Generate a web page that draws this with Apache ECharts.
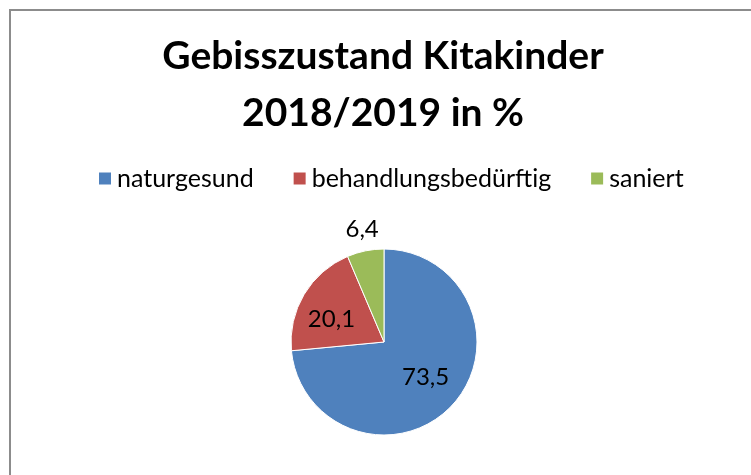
<!DOCTYPE html>
<html>
<head>
<meta charset="utf-8">
<script src="https://cdn.jsdelivr.net/npm/echarts@6/dist/echarts.min.js"></script>
<style>
  html, body { margin: 0; padding: 0; background: #fff; }
  #wrap { position: relative; width: 751px; height: 475px; overflow: hidden; }
  #frame { position: absolute; left: 9px; top: 9px; width: 800px; height: 500px;
           border-left: 2px solid #8c8c8c; border-top: 2px solid #8c8c8c; }
  #pie { position: absolute; left: 0; top: 0; width: 751px; height: 475px; }
</style>
</head>
<body>
<div id="wrap">
  <div id="frame"></div>
  <div id="pie"></div>
</div>
<script>
// Kategorien und Werte (in %)
const categories = ["naturgesund", "behandlungsbedürftig", "saniert"];
const values = [73.5, 20.1, 6.4];
const colors = ["#4F81BD", "#C0504D", "#9BBB59"];
// Verschiebung der Beschriftungen (nur Darstellung)
const labelOffsets = [[5, 2], [-10, 3], [-12, -64]];

let myChart = echarts.init(document.getElementById("pie"));

let option = {
  animation: false,
  title: {
    text: "Gebisszustand Kitakinder\n2018/2019 in %",
    left: 383,
    textAlign: "center",
    top: 28,
    padding: 0,
    textStyle: {
      fontFamily: "Lato",
      fontWeight: "bold",
      fontSize: 39,
      lineHeight: 57,
      color: "#000",
    },
  },
  legend: {
    data: categories,
    left: 97,
    top: 166,
    padding: 0,
    itemWidth: 14,
    itemHeight: 14,
    itemGap: 38,
    icon: "rect",
    textStyle: {
      fontFamily: "Lato",
      fontSize: 25,
      color: "#000",
    },
  },
  series: [
    {
      type: "pie",
      center: [384, 342],
      radius: 93,
      startAngle: 90,
      clockwise: true,
      itemStyle: {
        borderColor: "#fff",
        borderWidth: 1,
      },
      label: {
        show: true,
        position: "inside",
        fontFamily: "Lato",
        fontSize: 24,
        color: "#000",
        formatter: (p) => String(p.value).replace(".", ","),
      },
      labelLine: { show: false },
      emphasis: { disabled: true },
      data: categories.map((name, i) => ({
        name: name,
        value: values[i],
        itemStyle: { color: colors[i] },
        label: { offset: labelOffsets[i] },
      })),
    },
  ],
};
myChart.setOption(option);
</script>
</body>
</html>
